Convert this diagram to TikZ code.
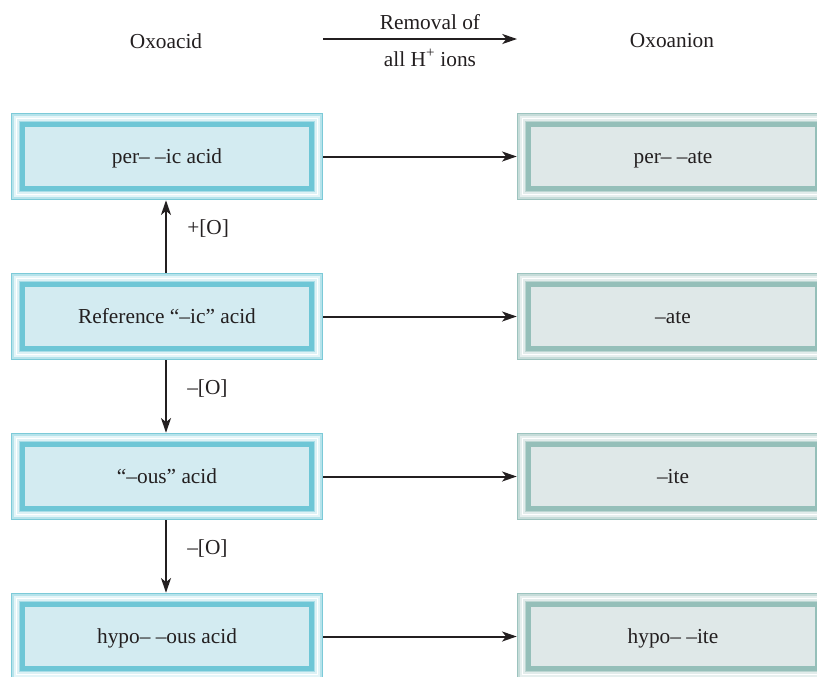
\documentclass[tikz,border=0pt]{standalone}
\usepackage{fontspec}
\setmainfont{Liberation Serif}
\usetikzlibrary{arrows.meta}
\definecolor{txt}{HTML}{231F20}
% left (blue) box colours
\definecolor{lbA}{HTML}{7CCAD8}
\definecolor{lbB}{HTML}{B6E3EB}
\definecolor{lbC}{HTML}{E4F5F8}
\definecolor{lbD}{HTML}{FFFFFF}
\definecolor{lbE}{HTML}{DDF1F5}
\definecolor{lbF}{HTML}{A9DDE7}
\definecolor{lbT}{HTML}{6EC6D6}
\definecolor{lbI}{HTML}{D3EBF1}
% right (grey-teal) box colours
\definecolor{rbA}{HTML}{9CC3BE}
\definecolor{rbB}{HTML}{C6DCD9}
\definecolor{rbC}{HTML}{E6EFEE}
\definecolor{rbD}{HTML}{FFFFFF}
\definecolor{rbE}{HTML}{E2ECEB}
\definecolor{rbF}{HTML}{BCD6D2}
\definecolor{rbT}{HTML}{95BFB9}
\definecolor{rbI}{HTML}{DFE8E8}
\newcommand{\bandfill}[2]{%
  \fill[#1] ([shift={(#2,-#2)}]path picture bounding box.north west) rectangle ([shift={(-#2,#2)}]path picture bounding box.south east);}
\tikzset{
  boxbase/.style={rectangle, minimum width=234pt, minimum height=65.25pt, inner sep=0pt, text height=11pt, text depth=0pt, font=\fontsize{16}{19}\selectfont, text=txt},
  lbox/.style={boxbase, path picture={
      \bandfill{lbA}{0pt}\bandfill{lbB}{1.1pt}\bandfill{lbC}{2.2pt}\bandfill{lbD}{3.4pt}
      \bandfill{lbE}{4.6pt}\bandfill{lbF}{5.8pt}\bandfill{lbT}{6.9pt}\bandfill{lbI}{10.8pt}}},
  rbox/.style={boxbase, path picture={
      \bandfill{rbA}{0pt}\bandfill{rbB}{1.1pt}\bandfill{rbC}{2.2pt}\bandfill{rbD}{3.4pt}
      \bandfill{rbE}{4.6pt}\bandfill{rbF}{5.8pt}\bandfill{rbT}{6.9pt}\bandfill{rbI}{10.8pt}}},
  lbl/.style={font=\fontsize{16}{19}\selectfont, text=txt, inner sep=0pt},
  conn/.style={draw=txt, line width=1.5pt, -{Stealth[length=11pt,width=7.5pt,inset=3pt]}},
}
\begin{document}
\begin{tikzpicture}[x=0.75pt,y=-0.75pt]
\useasboundingbox (0,0) rectangle (817,676);
\clip (0,0) rectangle (817,676);
% header
\node[lbl] (hacid) at (166,41) {Oxoacid};
\node[lbl] (hanion) at (672,41) {Oxoanion};
\coordinate (h1) at (323,39);
\coordinate (h2) at (517,39);
\draw[conn] (h1) -- (h2);
\node[lbl] (hrem) at (430,22) {Removal of};
\node[lbl] (hions) at (430,58) {all H\textsuperscript{+} ions};
% left boxes
\node[lbox] (a0) at (167,156.5) {per– –ic acid};
\node[lbox] (a1) at (167,316.5) {Reference “–ic” acid};
\node[lbox] (a2) at (167,476.5) {“–ous” acid};
\node[lbox] (a3) at (167,636.5) {hypo– –ous acid};
% right boxes
\node[rbox] (b0) at (673,156.5) {per– –ate};
\node[rbox] (b1) at (673,316.5) {–ate};
\node[rbox] (b2) at (673,476.5) {–ite};
\node[rbox] (b3) at (673,636.5) {hypo– –ite};
% horizontal connectors
\foreach \i in {0,1,2,3} \draw[conn] (a\i.east) -- (b\i.west);
% vertical connectors
\draw[conn] ([xshift=-0.75pt]a1.north) -- ([xshift=-0.75pt]a0.south);
\draw[conn] ([xshift=-0.75pt]a1.south) -- ([xshift=-0.75pt]a2.north);
\draw[conn] ([xshift=-0.75pt]a2.south) -- ([xshift=-0.75pt]a3.north);
\node[lbl, anchor=west] (lo1) at (187,228.5) {+[O]};
\node[lbl, anchor=west] (lo2) at (187,388.5) {–[O]};
\node[lbl, anchor=west] (lo3) at (187,548.5) {–[O]};
\end{tikzpicture}
\end{document}
